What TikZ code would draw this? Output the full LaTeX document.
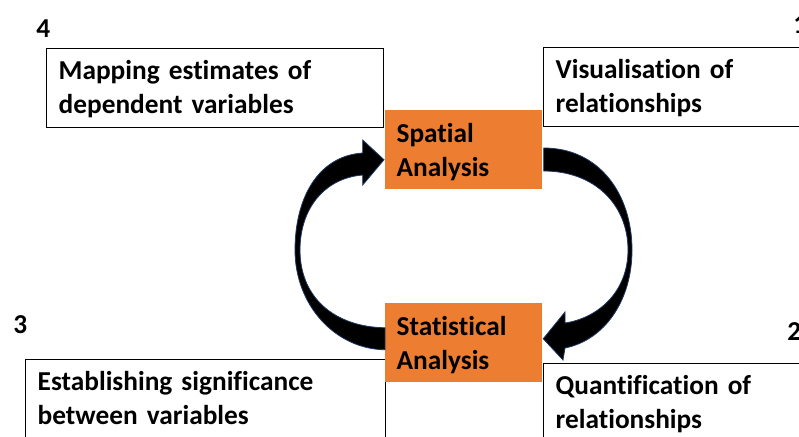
\documentclass[tikz,border=0pt]{standalone}
\usepackage{fontspec}
\setmainfont{Carlito}[Ligatures=NoCommon]
\usetikzlibrary{calc}
\definecolor{analysisorange}{HTML}{ED7D31}
\definecolor{arrowrim}{HTML}{1F3864}
\tikzset{
  textbox/.style={draw=black,line width=1pt,fill=white,anchor=north west,
    inner xsep=9pt,inner ysep=0pt,text height=23pt,text depth=36pt,
    text width=#1,align=left,font=\fontsize{20.5}{25.5}\selectfont\bfseries},
  analysisbox/.style={fill=analysisorange,anchor=north west,
    inner xsep=8.5pt,inner ysep=0pt,text height=24pt,text depth=35.25pt,
    text width=100.5pt,align=left,font=\fontsize{20.5}{25.5}\selectfont\bfseries},
  boxnum/.style={anchor=base west,inner sep=0pt,font=\fontsize{20.5}{22}\selectfont\bfseries},
  bigarrow/.style={fill=black,draw=arrowrim,line width=0.6pt}
}
\begin{document}
\begin{tikzpicture}[x=0.75pt,y=-0.75pt]
\clip (0,0) rectangle (799,436);
\node[textbox=234.75pt] (mapping) at (46,48) {Mapping estimates of\\dependent variables};
\node[textbox=189.75pt] (visual) at (543,47) {Visualisation of\\relationships};
\node[textbox=252pt] (signif) at (25,359) {Establishing significance\\between variables};
\node[textbox=189.75pt] (quant) at (543,363) {Quantification of\\relationships};
\node[boxnum] (n4) at (36,37) {4};
\node[boxnum] (n1) at (793,33) {1};
\node[boxnum] (n3) at (13,333) {3};
\node[boxnum] (n2) at (787,340) {2};
\node[analysisbox] (spatial) at (385,110) {Spatial\\Analysis};
\node[analysisbox] (stat) at (385,303) {Statistical\\Analysis};
\draw[bigarrow] ($(spatial.north east)+(1.5,38)$)
  .. controls (600,148) and (632,195) .. (632,250)
  .. controls (632,300) and (605,340) .. (565,348)
  -- (563,360) -- ($(stat.east)+(1,-4)$) -- (565,312) -- (565,323)
  .. controls (598,318) and (628,292) .. (628,250)
  .. controls (628,205) and (595,171) .. ($(spatial.north east)+(1.5,61)$) -- cycle;
\draw[bigarrow] ($(stat.west)+(0,7)$)
  .. controls (335,349) and (295,305) .. (295,250)
  .. controls (295,198) and (318,156) .. (362.7,153)
  -- (362.7,140) -- ($(spatial.west)+(-1,10)$) -- (362.7,185) -- (362.7,175)
  .. controls (325,178) and (300,208) .. (300,250)
  .. controls (300,298) and (335,327) .. ($(stat.west)+(0,-15)$) -- cycle;
\end{tikzpicture}
\end{document}
